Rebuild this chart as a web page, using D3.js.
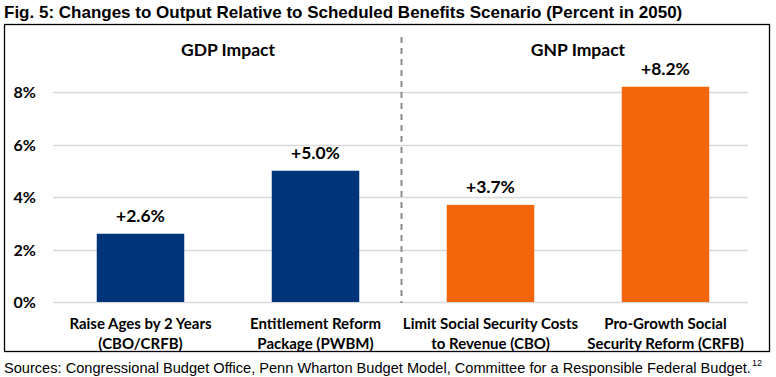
<!DOCTYPE html>
<html>
<head>
<meta charset="utf-8">
<script src="https://cdn.jsdelivr.net/npm/d3@7"></script>
<style>
  body { margin: 0; background: #fff; }
  .narrow { font-family: "Liberation Sans Narrow", "Arial Narrow", "Liberation Sans", sans-serif; }
  .cal { font-family: Lato, "Open Sans", sans-serif; }
</style>
</head>
<body>
<div id="chart"></div>
<script>
// data
const categories = ["raise", "entitle", "limit", "progrowth"];
const labelLines = [
  ["Raise Ages by 2 Years", "(CBO/CRFB)"],
  ["Entitlement Reform", "Package (PWBM)"],
  ["Limit Social Security Costs", "to Revenue (CBO)"],
  ["Pro-Growth Social", "Security Reform (CRFB)"]
];
const values = [2.6, 5.0, 3.7, 8.2];
const groups = ["GDP", "GDP", "GNP", "GNP"];
const groupTitles = ["GDP Impact", "GNP Impact"];
const yTicks = [0, 2, 4, 6, 8];

const width = 776, height = 377;
const y0 = 302, y8 = 92;

const svg = d3.select("#chart").append("svg")
  .attr("width", width)
  .attr("height", height);

// title
svg.append("text")
  .attr("class", "narrow")
  .attr("x", 4).attr("y", 18)
  .attr("font-size", 17).attr("font-weight", "bold")
  .text("Fig. 5: Changes to Output Relative to Scheduled Benefits Scenario (Percent in 2050)");

// frame
svg.append("rect")
  .attr("x", 4.5).attr("y", 24.5)
  .attr("width", 765).attr("height", 327)
  .attr("fill", "none").attr("stroke", "#000").attr("stroke-width", 1.3);

// scales
const x = d3.scaleBand()
  .domain(categories)
  .range([53, 753])
  .paddingInner(0.5)
  .paddingOuter(0.25);

const y = d3.scaleLinear()
  .domain([0, 8])
  .range([y0, y8]);

const colour = d3.scaleOrdinal()
  .domain(["GDP", "GNP"])
  .range(["#003478", "#F2650A"]);

// gridlines
svg.append("g")
  .selectAll("line")
  .data(yTicks)
  .join("line")
  .attr("x1", 53).attr("x2", 748)
  .attr("y1", d => Math.round(y(d)) + 0.5)
  .attr("y2", d => Math.round(y(d)) + 0.5)
  .attr("stroke", "#d9d9d9").attr("stroke-width", 1.3);

// y axis labels
const yAxis = d3.axisLeft(y).tickValues(yTicks).tickFormat(d => d + "%").tickSize(0).tickPadding(0);
const ya = svg.append("g")
  .attr("transform", "translate(36,0)")
  .call(yAxis);
ya.select(".domain").remove();
ya.selectAll("text")
  .attr("class", "cal")
  .attr("font-size", 16).attr("font-weight", "bold")
  .attr("fill", "#000")
  .attr("dy", "0.35em");

// divider
svg.append("line")
  .attr("x1", 401.5).attr("x2", 401.5)
  .attr("y1", 37).attr("y2", 303)
  .attr("stroke", "#8c8c8c").attr("stroke-width", 2)
  .attr("stroke-dasharray", "6,5");

// bars
svg.selectAll("rect.bar")
  .data(categories)
  .join("rect")
  .attr("class", "bar")
  .attr("x", d => x(d))
  .attr("width", x.bandwidth())
  .attr("y", (d, i) => y(values[i]))
  .attr("height", (d, i) => y0 - y(values[i]))
  .attr("fill", (d, i) => colour(groups[i]));

// value labels
svg.selectAll("text.val")
  .data(categories)
  .join("text")
  .attr("class", "val cal")
  .attr("x", d => x(d) + x.bandwidth() / 2)
  .attr("y", (d, i) => y(values[i]) - 12)
  .attr("text-anchor", "middle")
  .attr("font-size", 17.5).attr("font-weight", "bold")
  .text((d, i) => "+" + d3.format(".1f")(values[i]) + "%");

// group titles
groupTitles.forEach((t, gi) => {
  const cats = categories.slice(gi * 2, gi * 2 + 2);
  const cx = (x(cats[0]) + x(cats[1]) + x.bandwidth()) / 2;
  svg.append("text")
    .attr("class", "cal")
    .attr("x", cx).attr("y", 56)
    .attr("text-anchor", "middle")
    .attr("font-size", 17.5).attr("font-weight", "bold")
    .text(t);
});

// x labels
const xl = svg.selectAll("text.xl")
  .data(categories)
  .join("text")
  .attr("class", "xl cal")
  .attr("text-anchor", "middle")
  .attr("font-size", 15).attr("font-weight", "bold");
xl.selectAll("tspan")
  .data((d, i) => labelLines[i].map(l => ({l, cx: x(d) + x.bandwidth() / 2})))
  .join("tspan")
  .attr("x", d => d.cx)
  .attr("y", (d, j) => 329 + j * 20)
  .text(d => d.l);

// sources
svg.append("text")
  .attr("class", "narrow")
  .attr("x", 4).attr("y", 373)
  .attr("font-size", 14.6)
  .text("Sources: Congressional Budget Office, Penn Wharton Budget Model, Committee for a Responsible Federal Budget.");
svg.append("text")
  .attr("class", "narrow")
  .attr("x", 752).attr("y", 366)
  .attr("font-size", 9)
  .text("12");
</script>
</body>
</html>
